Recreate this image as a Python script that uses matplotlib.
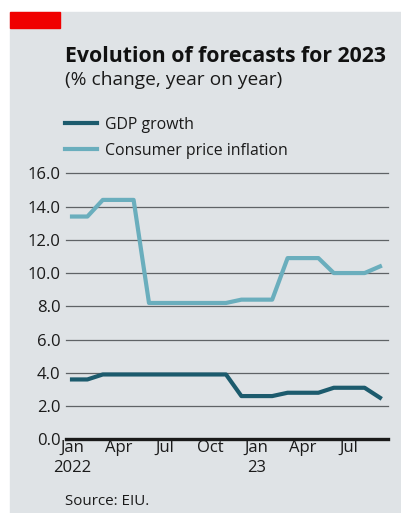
import numpy as np
import matplotlib.pyplot as plt
from matplotlib.patches import Rectangle

# monthly forecasts for 2023, Jan 2022 .. Sep 2023
gdp_growth = [3.6, 3.6, 3.9, 3.9, 3.9, 3.9, 3.9, 3.9, 3.9, 3.9, 3.9,
              2.6, 2.6, 2.6, 2.8, 2.8, 2.8, 3.1, 3.1, 3.1, 2.5]
cpi_inflation = [13.4, 13.4, 14.4, 14.4, 14.4, 8.2, 8.2, 8.2, 8.2, 8.2, 8.2,
                 8.4, 8.4, 8.4, 10.9, 10.9, 10.9, 10.0, 10.0, 10.0, 10.4]
tick_months = [0, 3, 6, 9, 12, 15, 18]
tick_labels = ['Jan', 'Apr', 'Jul', 'Oct', 'Jan', 'Apr', 'Jul']
year_months = [0, 12]
year_labels = ['2022', '23']
y_ticks = [0, 2, 4, 6, 8, 10, 12, 14, 16]

bg = '#dfe3e6'
gdp_col = '#1c5b6d'
cpi_col = '#6aaebd'
font = 'Open Sans'

W, H = 402, 513
fig = plt.figure(figsize=(W / 100, H / 100), dpi=100)
fig.patch.set_facecolor('white')
# grey panel and red tag
fig.patches.append(Rectangle((10 / W, 0), 1 - 10 / W, 1 - 12 / H,
                             transform=fig.transFigure, color=bg, zorder=-2))
fig.patches.append(Rectangle((10 / W, 1 - 28 / H), 50 / W, 16 / H,
                             transform=fig.transFigure, color='#f00000', zorder=-1))

ax = fig.add_axes([66 / W, 1 - 439.3 / H, 322 / W, 266 / H])
ax.set_facecolor('none')
x = np.arange(len(gdp_growth))
ax.plot(x, gdp_growth, color=gdp_col, lw=3.0, solid_joinstyle='round', zorder=3)
ax.plot(x, cpi_inflation, color=cpi_col, lw=3.0, solid_joinstyle='round', zorder=3)

ax.set_xlim(-0.39, 20.52)
ax.set_ylim(0, 16)
for v in y_ticks[1:]:
    ax.axhline(v, color='#5f6366', lw=0.9, zorder=1, clip_on=False)
ax.axhline(0, color='#1a1a1a', lw=2.4, zorder=4, clip_on=False)

for s in ax.spines.values():
    s.set_visible(False)
ax.set_yticks(y_ticks)
ax.set_yticklabels([f'{v:.1f}' for v in y_ticks], fontsize=12, family=font, color='#1a1a1a')

# month labels on major ticks, year labels on minor ticks underneath
ax.xaxis.remove_overlapping_locs = False
ax.set_xticks(tick_months)
ax.set_xticklabels(tick_labels, fontsize=12, family=font, color='#1a1a1a')
ax.set_xticks(year_months, minor=True)
ax.set_xticklabels(year_labels, minor=True, fontsize=12, family=font, color='#1a1a1a')
ax.tick_params(axis='both', which='both', length=0)
ax.tick_params(axis='y', pad=4)
ax.tick_params(axis='x', which='major', pad=0.5)
ax.tick_params(axis='x', which='minor', pad=14.8)

fig.text(65 / W, 1 - 62 / H, 'Evolution of forecasts for 2023', fontsize=15.3,
         fontweight='bold', family=font, color='#111111', va='baseline')
fig.text(65 / W, 1 - 85 / H, '(% change, year on year)', fontsize=13.8,
         family=font, color='#1a1a1a', va='baseline')

# legend
for yy, col, lab in [(123, gdp_col, 'GDP growth'), (149, cpi_col, 'Consumer price inflation')]:
    fig.add_artist(plt.Line2D([65 / W, 97 / W], [1 - yy / H, 1 - yy / H],
                              color=col, lw=3.0, transform=fig.transFigure))
    fig.text(105 / W, 1 - (yy + 6) / H, lab, fontsize=11.4, family=font,
             color='#1a1a1a', va='baseline')

fig.text(65 / W, 1 - 505 / H, 'Source: EIU.', fontsize=10.9, family=font,
         color='#1a1a1a', va='baseline')

fig.savefig('out.png', dpi=100)
